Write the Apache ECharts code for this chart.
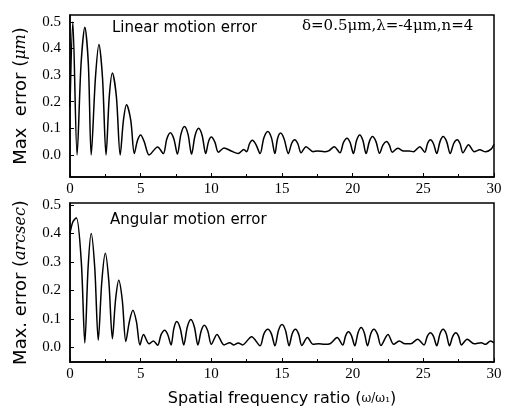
<!DOCTYPE html>
<html>
<head>
<meta charset="utf-8">
<script src="https://cdn.jsdelivr.net/npm/echarts@6/dist/echarts.min.js"></script>
<style>
  html, body { margin: 0; padding: 0; background: #fff; }
  #chart { width: 507px; height: 408px; }
</style>
</head>
<body>
<div id="chart"></div>
<script>
// [ratio, max error]
const linearError = [
  [0, 0.18], [0.2, 0.50], [0.5, 0.0], [0.78, 0.34], [1.05, 0.48], [1.3, 0.34], [1.5, 0.0],
  [1.8, 0.29], [2.05, 0.415], [2.3, 0.29], [2.55, 0.0], [2.78, 0.22], [3.0, 0.308], [3.28, 0.22],
  [3.55, 0.0], [3.78, 0.13], [4.0, 0.189], [4.3, 0.13], [4.55, 0.005], [4.78, 0.055], [5.0, 0.075],
  [5.25, 0.05], [5.6, 0.0], [6.2, 0.03], [6.6, 0.005], [6.85, 0.06], [7.1, 0.083], [7.35, 0.06],
  [7.6, 0.003], [7.85, 0.078], [8.1, 0.107], [8.35, 0.078], [8.6, 0.003], [8.85, 0.073],
  [9.1, 0.10], [9.35, 0.073], [9.6, 0.005], [9.8, 0.05], [10.0, 0.067], [10.25, 0.048],
  [10.5, 0.01], [10.9, 0.026], [11.4, 0.015], [11.9, 0.005], [12.3, 0.02], [12.5, 0.012],
  [12.7, 0.042], [12.9, 0.055], [13.15, 0.04], [13.45, 0.005], [13.72, 0.065], [14.0, 0.088],
  [14.25, 0.065], [14.5, 0.005], [14.68, 0.06], [14.9, 0.082], [15.15, 0.06], [15.45, 0.005],
  [15.68, 0.043], [15.9, 0.057], [16.12, 0.042], [16.35, 0.008], [16.7, 0.031], [17.2, 0.012],
  [17.5, 0.015], [18.0, 0.012], [18.3, 0.015], [18.7, 0.031], [19.1, 0.008], [19.35, 0.047],
  [19.6, 0.063], [19.82, 0.047], [20.05, 0.005], [20.28, 0.055], [20.5, 0.075], [20.72, 0.055],
  [20.95, 0.005], [21.18, 0.05], [21.4, 0.069], [21.65, 0.05], [21.9, 0.006], [22.15, 0.038],
  [22.4, 0.05], [22.6, 0.037], [22.8, 0.01], [23.2, 0.025], [23.6, 0.015], [24.0, 0.015],
  [24.3, 0.012], [24.75, 0.031], [25.1, 0.01], [25.3, 0.043], [25.5, 0.057], [25.72, 0.042],
  [25.95, 0.005], [26.18, 0.05], [26.4, 0.069], [26.65, 0.05], [26.9, 0.005], [27.15, 0.043],
  [27.4, 0.057], [27.6, 0.042], [27.8, 0.008], [28.2, 0.038], [28.6, 0.012], [29.0, 0.019],
  [29.4, 0.012], [29.8, 0.022], [30, 0.04]
];

const angularError = [
  [0, 0.40], [0.2, 0.44], [0.45, 0.455], [0.8, 0.3], [1.05, 0.015], [1.28, 0.28], [1.5, 0.40],
  [1.75, 0.28], [2.0, 0.025], [2.25, 0.23], [2.5, 0.33], [2.75, 0.23], [3.0, 0.03], [3.22, 0.165],
  [3.45, 0.235], [3.7, 0.165], [3.95, 0.02], [4.2, 0.09], [4.45, 0.13], [4.7, 0.09], [4.95, 0.008],
  [5.2, 0.045], [5.6, 0.012], [5.9, 0.022], [6.2, 0.007], [6.45, 0.045], [6.7, 0.06], [6.92, 0.044],
  [7.15, 0.008], [7.35, 0.066], [7.55, 0.09], [7.8, 0.066], [8.05, 0.008], [8.3, 0.071],
  [8.55, 0.097], [8.8, 0.071], [9.05, 0.008], [9.28, 0.057], [9.5, 0.077], [9.75, 0.057],
  [10.0, 0.01], [10.4, 0.045], [10.9, 0.008], [11.3, 0.016], [11.6, 0.008], [11.9, 0.015],
  [12.2, 0.008], [12.85, 0.037], [13.45, 0.005], [13.72, 0.047], [14.0, 0.063], [14.25, 0.047],
  [14.5, 0.005], [14.75, 0.059], [15.0, 0.08], [15.25, 0.059], [15.5, 0.005], [15.72, 0.047],
  [15.95, 0.063], [16.18, 0.046], [16.4, 0.006], [16.8, 0.034], [17.2, 0.01], [17.6, 0.012],
  [18.0, 0.01], [18.4, 0.012], [18.9, 0.034], [19.3, 0.008], [19.5, 0.04], [19.7, 0.054],
  [19.92, 0.04], [20.15, 0.005], [20.38, 0.051], [20.6, 0.069], [20.82, 0.051], [21.05, 0.005],
  [21.28, 0.047], [21.5, 0.063], [21.75, 0.046], [22.0, 0.006], [22.5, 0.045], [22.9, 0.01],
  [23.3, 0.022], [23.7, 0.012], [24.1, 0.012], [24.6, 0.028], [25.05, 0.008], [25.28, 0.038],
  [25.5, 0.051], [25.72, 0.038], [25.95, 0.005], [26.18, 0.047], [26.4, 0.063], [26.62, 0.047],
  [26.85, 0.005], [27.08, 0.038], [27.3, 0.051], [27.5, 0.038], [27.7, 0.008], [28.1, 0.028],
  [28.6, 0.012], [29.1, 0.016], [29.4, 0.01], [29.75, 0.022], [30, 0.015]
];

const yTicks = [0, 0.1, 0.2, 0.3, 0.4, 0.5];

const serif = '"DejaVu Serif", "Liberation Serif", serif';
const tickFont = '"Liberation Serif", serif';
const sans = '"DejaVu Sans", Arial, sans-serif';

const chart = echarts.init(document.getElementById('chart'));

function xAxis(gridIndex, name) {
  return {
    type: 'value',
    gridIndex: gridIndex,
    min: 0,
    max: 30,
    interval: 5,
    name: name,
    nameLocation: 'middle',
    nameGap: 29,
    nameTextStyle: {
      color: '#000',
      fontFamily: sans,
      fontSize: 16,
      rich: { s: { fontFamily: serif, fontSize: 12, color: '#000' } }
    },
    axisLine: { onZero: false, lineStyle: { color: '#000', width: 1.5 } },
    axisTick: { inside: true, length: 4, lineStyle: { color: '#000' } },
    minorTick: { show: true, splitNumber: 2, length: 3, lineStyle: { color: '#000' } },
    axisLabel: { color: '#000', fontFamily: tickFont, fontSize: 15, margin: 5 },
    splitLine: { show: false }
  };
}

function yAxis(gridIndex, min, max, name) {
  return {
    type: 'value',
    gridIndex: gridIndex,
    min: min,
    max: max,
    name: name,
    nameLocation: 'middle',
    nameRotate: 90,
    nameGap: 40,
    nameTextStyle: {
      color: '#000',
      fontFamily: sans,
      fontSize: 18,
      rich: { i: { fontFamily: serif, fontStyle: 'italic', fontSize: 16, color: '#000' } }
    },
    axisLine: { onZero: false, lineStyle: { color: '#000', width: 1.5 } },
    axisTick: { inside: true, length: 4, customValues: yTicks, lineStyle: { color: '#000' } },
    axisLabel: {
      color: '#000',
      fontFamily: tickFont,
      fontSize: 15,
      margin: 9,
      customValues: yTicks,
      formatter: (v) => v.toFixed(1)
    },
    splitLine: { show: false }
  };
}

chart.setOption({
  animation: false,
  grid: [
    { left: 70, right: 13, top: 15, height: 162, show: true, borderColor: '#000', borderWidth: 1.5 },
    { left: 70, right: 13, top: 203, height: 160, show: true, borderColor: '#000', borderWidth: 1.5 }
  ],
  xAxis: [
    xAxis(0, ''),
    xAxis(1, 'Spatial frequency ratio ({s|ω/ω₁})')
  ],
  yAxis: [
    yAxis(0, -0.083, 0.526, 'Max  error ({i|μm})'),
    yAxis(1, -0.052, 0.507, 'Max. error ({i|arcsec})')
  ],
  graphic: [
    { type: 'text', left: 112, top: 21, style: { text: 'Linear motion error', font: '15px ' + sans, fill: '#000' } },
    { type: 'text', left: 302, top: 19, style: { text: 'δ=0.5μm,λ=-4μm,n=4', font: '15px ' + serif, fill: '#000' } },
    { type: 'text', left: 110, top: 213, style: { text: 'Angular motion error', font: '15px ' + sans, fill: '#000' } }
  ],
  series: [
    {
      type: 'line',
      xAxisIndex: 0,
      yAxisIndex: 0,
      data: linearError,
      symbol: 'none',
      smooth: 0.3,
      lineStyle: { color: '#000', width: 1.5 }
    },
    {
      type: 'line',
      xAxisIndex: 1,
      yAxisIndex: 1,
      data: angularError,
      symbol: 'none',
      smooth: 0.3,
      lineStyle: { color: '#000', width: 1.5 }
    }
  ]
});
</script>
</body>
</html>
